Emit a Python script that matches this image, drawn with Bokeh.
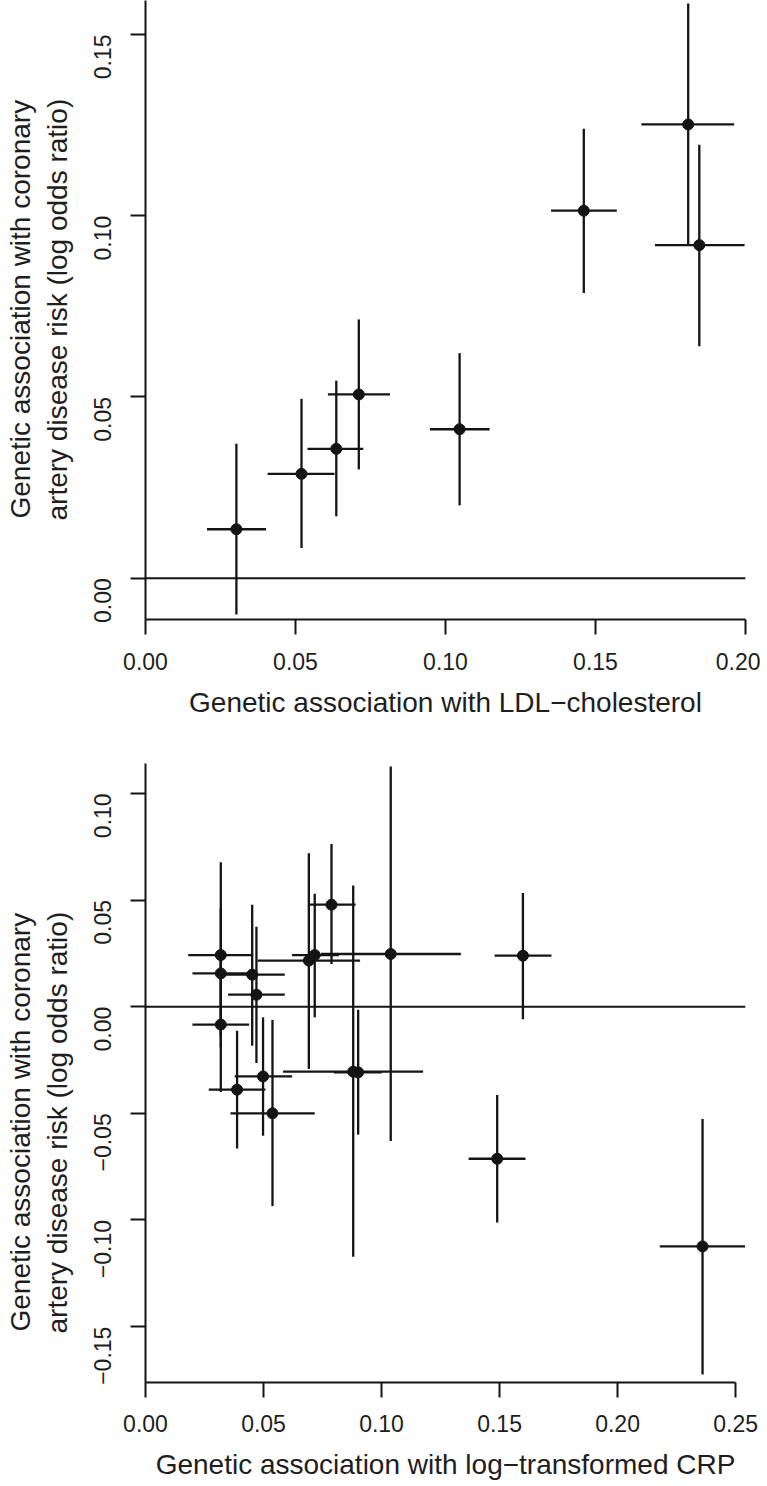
import math
from bokeh.plotting import figure
from bokeh.models import (Range1d, FixedTicker, CustomJSTickFormatter, Span, Title,
                          ColumnDataSource)
from bokeh.layouts import column
from bokeh.embed import file_html
from bokeh.resources import INLINE

# ---------------- data: panel 1 (LDL-cholesterol) ----------------
ldl_x   = [0.0303, 0.0520, 0.0636, 0.0711, 0.1047, 0.1461, 0.1809, 0.1846]
ldl_xlo = [0.0205, 0.0407, 0.0540, 0.0608, 0.0948, 0.1352, 0.1653, 0.1698]
ldl_xhi = [0.0402, 0.0630, 0.0726, 0.0815, 0.1147, 0.1571, 0.1962, 0.1997]
ldl_y   = [0.0135, 0.0288, 0.0357, 0.0507, 0.0411, 0.1014, 0.1252, 0.0919]
ldl_ylo = [-0.0100, 0.0083, 0.0171, 0.0300, 0.0201, 0.0787, 0.0920, 0.0640]
ldl_yhi = [0.0371, 0.0495, 0.0545, 0.0714, 0.0621, 0.1240, 0.1586, 0.1196]

# ---------------- data: panel 2 (log-transformed CRP) ----------------
crp_x   = [0.0319, 0.0319, 0.0319, 0.0452, 0.0470, 0.0388, 0.0498, 0.0538, 0.0692,
           0.0717, 0.0788, 0.1039, 0.0880, 0.0901, 0.1599, 0.1490, 0.2360]
crp_xlo = [0.0181, 0.0199, 0.0199, 0.0314, 0.0350, 0.0268, 0.0378, 0.0360, 0.0475,
           0.0621, 0.0696, 0.0743, 0.0583, 0.0798, 0.1479, 0.1369, 0.2179]
crp_xhi = [0.0456, 0.0439, 0.0439, 0.0590, 0.0590, 0.0508, 0.0621, 0.0717, 0.0909,
           0.0819, 0.0890, 0.1336, 0.1176, 0.1000, 0.1720, 0.1610, 0.2540]
crp_y   = [0.0242, 0.0156, -0.0084, 0.0150, 0.0056, -0.0389, -0.0327, -0.0500, 0.0216,
           0.0242, 0.0478, 0.0247, -0.0305, -0.0308, 0.0239, -0.0713, -0.1124]
crp_ylo = [-0.0190, -0.0140, -0.0400, -0.0183, -0.0264, -0.0665, -0.0605, -0.0935, -0.0292,
           -0.0050, 0.0200, -0.0630, -0.1173, -0.0600, -0.0059, -0.1012, -0.1724]
crp_yhi = [0.0677, 0.0460, 0.0240, 0.0478, 0.0375, -0.0113, -0.0050, -0.0062, 0.0719,
           0.0529, 0.0763, 0.1126, 0.0568, -0.0015, 0.0533, -0.0414, -0.0527]

ldl_xticks = [0.00, 0.05, 0.10, 0.15, 0.20]
ldl_yticks = [0.00, 0.05, 0.10, 0.15]
crp_xticks = [0.00, 0.05, 0.10, 0.15, 0.20, 0.25]
crp_yticks = [-0.15, -0.10, -0.05, 0.00, 0.05, 0.10]

ylab1 = "Genetic association with coronary"
ylab2 = "artery disease risk (log odds ratio)"

FONT = "Liberation Sans"
INK = "#141414"
TXT = "#1e1e1e"

fmt_code = ("const s = Math.abs(tick).toFixed(2);"
            "return tick < -1e-9 ? '\\u2212' + s : s;")


def make_panel(xs, xlo, xhi, ys, ylo, yhi, xr, yr, xticks, yticks, xlabel,
               xbounds, frame_h, b_top, b_bottom, t_offsets, xt_standoff, xl_standoff):
    p = figure(frame_width=600, frame_height=frame_h,
               x_range=Range1d(*xr), y_range=Range1d(*yr),
               output_backend="svg", toolbar_location=None,
               min_border_left=145, min_border_right=15,
               min_border_top=b_top, min_border_bottom=b_bottom)
    p.outline_line_color = None
    p.xgrid.visible = False
    p.ygrid.visible = False

    src = ColumnDataSource(dict(x=xs, xlo=xlo, xhi=xhi, y=ys, ylo=ylo, yhi=yhi))

    p.add_layout(Span(location=0, dimension="width", line_color=INK, line_width=2))
    p.segment(x0="xlo", y0="y", x1="xhi", y1="y", source=src,
              line_color=INK, line_width=2.3)
    p.segment(x0="x", y0="ylo", x1="x", y1="yhi", source=src,
              line_color=INK, line_width=2.3)
    p.scatter(x="x", y="y", source=src, size=11, fill_color=INK, line_color=INK)

    for ax in (p.xaxis[0], p.yaxis[0]):
        ax.formatter = CustomJSTickFormatter(code=fmt_code)
        ax.major_tick_out = 15
        ax.major_tick_in = 0
        ax.minor_tick_line_color = None
        ax.axis_line_width = 2
        ax.axis_line_color = INK
        ax.major_tick_line_width = 2
        ax.major_tick_line_color = INK
        ax.major_label_text_font = FONT
        ax.major_label_text_font_size = "23px"
        ax.major_label_text_color = TXT

    xa = p.xaxis[0]
    xa.ticker = FixedTicker(ticks=xticks)
    xa.bounds = xbounds
    xa.major_label_standoff = xt_standoff
    xa.axis_label = xlabel
    xa.axis_label_text_font = FONT
    xa.axis_label_text_font_size = "28px"
    xa.axis_label_text_font_style = "normal"
    xa.axis_label_text_color = TXT
    xa.axis_label_standoff = xl_standoff

    ya = p.yaxis[0]
    ya.ticker = FixedTicker(ticks=yticks)
    ya.major_label_orientation = math.pi / 2
    ya.major_label_standoff = 28
    # blank spacer label keeps the two-line title clear of the tick labels
    ya.axis_label = " "
    ya.axis_label_text_font_size = "1px"
    ya.axis_label_standoff = 1

    # two-line y title: second line nearest the axis, first line outermost
    for txt, so, off in ((ylab2, 9, t_offsets[1]), (ylab1, 0, t_offsets[0])):
        p.add_layout(Title(text=txt, align="left", offset=off, standoff=so,
                           text_font=FONT, text_font_size="28px",
                           text_font_style="normal", text_color=TXT), "left")
    return p


p1 = make_panel(ldl_x, ldl_xlo, ldl_xhi, ldl_y, ldl_ylo, ldl_yhi,
                (0.0, 0.2), (-0.0114, 0.1594), ldl_xticks, ldl_yticks,
                "Genetic association with LDL\u2212cholesterol", (0.0, 0.2),
                619, 0, 106, (101, 99), 18, 14)

p2 = make_panel(crp_x, crp_xlo, crp_xhi, crp_y, crp_ylo, crp_yhi,
                (0.0, 0.2542), (-0.1762, 0.1140), crp_xticks, crp_yticks,
                "Genetic association with log\u2212transformed CRP", (0.0, 0.25),
                619, 38, 103, (51, 49), 17, 14)

layout = column(p1, p2, spacing=0)
open("out.html", "w").write(file_html(layout, INLINE))
